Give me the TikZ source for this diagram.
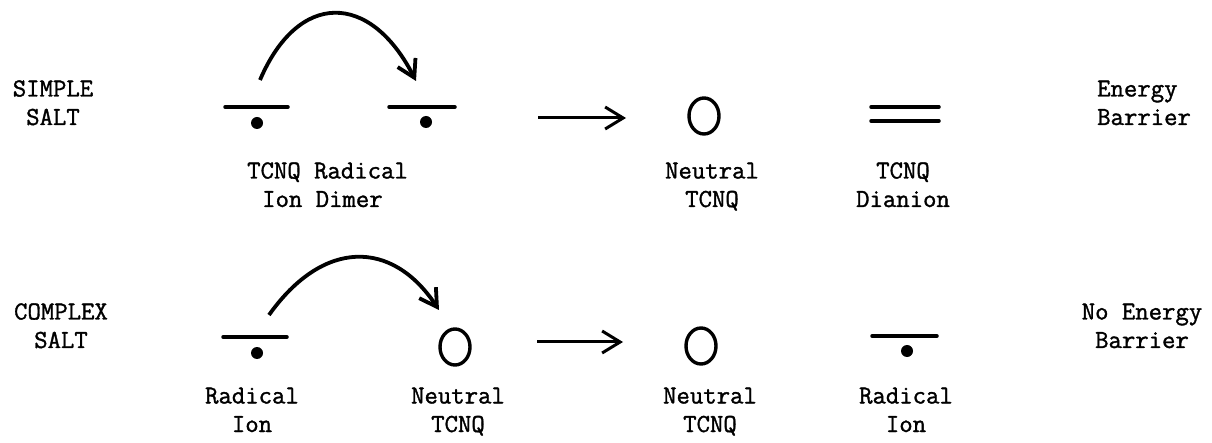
\documentclass[tikz,border=0pt]{standalone}
\usepackage{fontspec}
\usetikzlibrary{arrows.meta,shapes.geometric}
\newfontfamily\twfont[FakeBold=1.3]{Latin Modern Mono}
\begin{document}
\begin{tikzpicture}[x=1pt,y=-1pt,
  lbl/.style={inner sep=0pt,anchor=base,align=center,font=\twfont\fontsize{26}{28.5}\selectfont},
  lvl/.style={line width=3.5pt,line cap=round},
  dotm/.style={fill=black,circle,inner sep=0pt,minimum size=12pt},
  neut/.style={draw,line width=3.4pt,ellipse,inner sep=0pt,minimum width=30pt,minimum height=36pt},
  hop/.style={line width=3.8pt,-{Straight Barb[length=17pt,width=20pt,line width=3.8pt]}},
  react/.style={line width=3pt,-{Straight Barb[length=18pt,width=22pt,line width=3pt]}}]
\useasboundingbox (0,0) rectangle (1212,443);

% ---------- top row: simple salt ----------
\node[lbl] (simple) at (53,125) {SIMPLE\\SALT};
\node[lbl,align=left,anchor=base west] (eb) at (1097,125) {Energy\\Barrier};

\coordinate (b1l) at (225,107); \coordinate (b1r) at (288,107);
\draw[lvl] (b1l) -- (b1r);
\node[dotm] (d1) at (257,123) {};
\coordinate (b2l) at (389,107); \coordinate (b2r) at (455,107);
\draw[lvl] (b2l) -- (b2r);
\node[dotm] (d2) at (426,122) {};

\coordinate (h1s) at (260,80); \coordinate (h1e) at (416,81);
\draw[hop] (h1s) .. controls (298,-9) and (370,-9) .. (h1e);

\coordinate (r1s) at (538,118); \coordinate (r1e) at (626,118);
\draw[react] (r1s) -- (r1e);

\node[neut] (n1) at (704,116) {};

\coordinate (q1l) at (871,107); \coordinate (q1r) at (939,107);
\coordinate (q2l) at (871,121); \coordinate (q2r) at (939,121);
\draw[lvl] (q1l) -- (q1r);
\draw[lvl] (q2l) -- (q2r);

\node[lbl,align=left,anchor=base west] (dimer) at (247,207) {TCNQ Radical\\\hspace*{15pt}Ion Dimer};
\node[lbl] (neu1) at (712,207) {Neutral\\TCNQ};
\node[lbl] (dian) at (903,207) {TCNQ\\Dianion};

% ---------- bottom row: complex salt ----------
\node[lbl] (complex) at (61,348) {COMPLEX\\SALT};
\node[lbl] (neb) at (1142,348) {No Energy\\Barrier};

\coordinate (b3l) at (223,337); \coordinate (b3r) at (287,337);
\draw[lvl] (b3l) -- (b3r);
\node[dotm] (d3) at (257,353) {};

\node[neut] (n2) at (455,347) {};

\coordinate (h2s) at (269,315); \coordinate (h2e) at (439,310);
\draw[hop] (h2s) .. controls (323,239) and (392,239) .. (h2e);

\coordinate (r2s) at (537,342); \coordinate (r2e) at (623,342);
\draw[react] (r2s) -- (r2e);

\node[neut] (n3) at (701,346) {};

\coordinate (b4l) at (872,336); \coordinate (b4r) at (937,336);
\draw[lvl] (b4l) -- (b4r);
\node[dotm] (d4) at (907,351) {};

\node[lbl] (rad1) at (252,432) {Radical\\Ion};
\node[lbl] (neu2) at (458,432) {Neutral\\TCNQ};
\node[lbl] (neu3) at (710,432) {Neutral\\TCNQ};
\node[lbl] (rad2) at (906,432) {Radical\\Ion};
\end{tikzpicture}
\end{document}
